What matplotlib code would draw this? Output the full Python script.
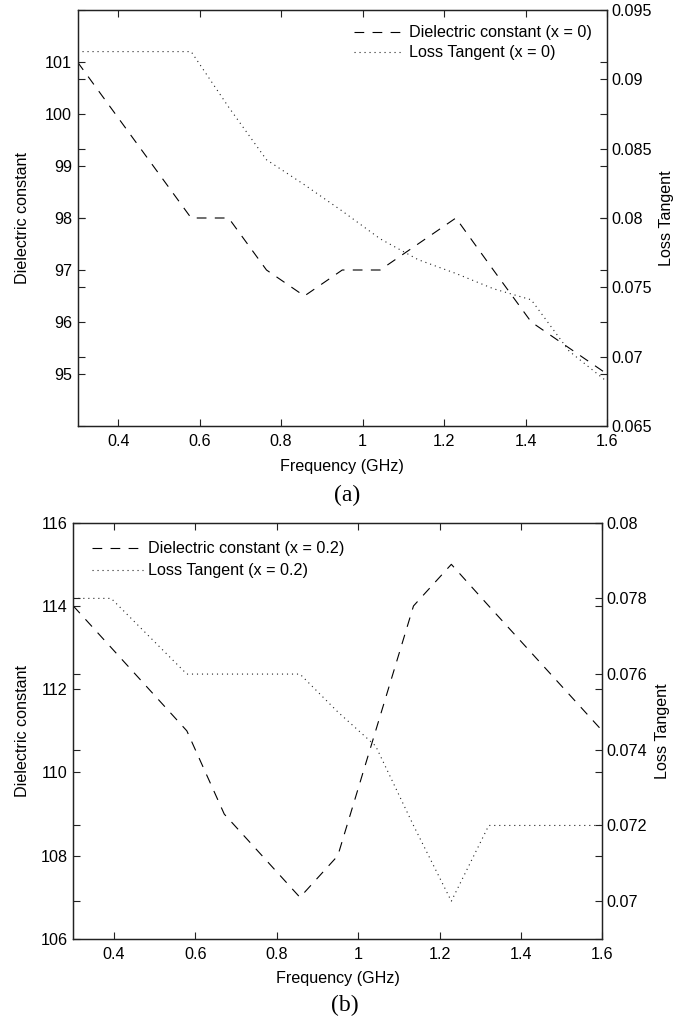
import matplotlib
matplotlib.use("Agg")
import matplotlib.pyplot as plt
from matplotlib.ticker import FixedLocator, FixedFormatter

plt.rcParams['font.family'] = ['Liberation Sans', 'DejaVu Sans']
plt.rcParams['lines.scale_dashes'] = False

# ---- data ----
freq = [0.3, 0.393, 0.486, 0.579, 0.671, 0.764, 0.857, 0.95, 1.043, 1.136,
        1.229, 1.321, 1.414, 1.507, 1.6]

eps_a = [101, 100, 99, 98, 98, 97, 96.5, 97, 97, 97.5, 98, 97, 96, 95.5, 95]
tan_a = [0.092, 0.092, 0.092, 0.092, 0.088, 0.0842, 0.0824, 0.0805, 0.0785,
         0.077, 0.076, 0.0749, 0.0741, 0.0704, 0.0682]

eps_b = [114, 113, 112, 111, 109, 108, 107, 108, 111, 114, 115, 114, 113, 112, 111]
tan_b = [0.078, 0.078, 0.077, 0.076, 0.076, 0.076, 0.076, 0.075, 0.0741,
         0.072, 0.070, 0.072, 0.072, 0.072, 0.072]

xticks = [0.4, 0.6, 0.8, 1.0, 1.2, 1.4, 1.6]
xticklabels = ['0.4', '0.6', '0.8', '1', '1.2', '1.4', '1.6']

yl_a = [95, 96, 97, 98, 99, 100, 101]
yr_a = [0.065, 0.07, 0.075, 0.08, 0.085, 0.09, 0.095]
yr_a_lab = ['0.065', '0.07', '0.075', '0.08', '0.085', '0.09', '0.095']

yl_b = [106, 108, 110, 112, 114, 116]
yr_b = [0.07, 0.072, 0.074, 0.076, 0.078, 0.08]
yr_b_lab = ['0.07', '0.072', '0.074', '0.076', '0.078', '0.08']

W, H = 695, 1021
fig = plt.figure(figsize=(W / 100, H / 100), dpi=100)

FS = 11.6
DASH = (7, 6)
DOT = (0.8, 2.8)


def px_rect(l, t, r, b):
    return [l / W, 1 - b / H, (r - l) / W, (b - t) / H]


def panel(rect, eps, tan, ylim_l, ylim_r, yl, yr, yr_lab, leg_labels,
          leg_loc, leg_anchor, hlen, hpad, lspace, lab_l_x, lab_r_x, xlab_y,
          tag, tag_y, tag_x):
    ax1 = fig.add_axes(px_rect(*rect))
    ax2 = ax1.twinx()
    l1, = ax1.plot(freq, eps, color='black', lw=0.8, linestyle=(0, DASH))
    l2, = ax2.plot(freq, tan, color='#222222', lw=0.8, linestyle=(0, DOT))
    ax1.set_xlim(0.3, 1.6)
    ax1.set_ylim(*ylim_l)
    ax2.set_ylim(*ylim_r)
    ax1.xaxis.set_major_locator(FixedLocator(xticks))
    ax1.xaxis.set_major_formatter(FixedFormatter(xticklabels))
    ax1.yaxis.set_major_locator(FixedLocator(yl))
    ax1.yaxis.set_major_formatter(FixedFormatter([('%g' % v) for v in yl]))
    ax2.yaxis.set_major_locator(FixedLocator(yr))
    ax2.yaxis.set_major_formatter(FixedFormatter(yr_lab))
    for ax in (ax1, ax2):
        for s in ax.spines.values():
            s.set_linewidth(0.9)
            s.set_color('#222222')
    ax1.tick_params(axis='both', direction='in', length=5, width=0.8,
                    labelsize=FS, top=True, right=True, color='#222222', pad=6)
    ax1.tick_params(axis='y', labelright=False, pad=4)
    ax2.tick_params(axis='y', direction='in', length=5, width=0.8,
                    labelsize=FS, left=True, right=True, labelleft=False,
                    color='#222222', pad=3)
    ax2.legend([l1, l2], leg_labels, loc=leg_loc, bbox_to_anchor=leg_anchor,
               frameon=False, fontsize=FS, handlelength=hlen,
               handletextpad=hpad, borderpad=0, borderaxespad=0,
               labelspacing=lspace)
    l, t, r, b = rect
    cy = (t + b) / 2
    fig.text(lab_l_x / W, 1 - cy / H, 'Dielectric constant', rotation=90,
             ha='center', va='center', fontsize=FS)
    fig.text(lab_r_x / W, 1 - cy / H, 'Loss Tangent', rotation=90,
             ha='center', va='center', fontsize=FS)
    fig.text(((l + r) / 2) / W, 1 - xlab_y / H, 'Frequency (GHz)',
             ha='center', va='center', fontsize=FS)
    fig.text(tag_x / W, 1 - tag_y / H, tag, ha='center', va='center',
             fontsize=17, family=['Liberation Serif', 'DejaVu Serif'])


panel((77.5, 10, 607, 426), eps_a, tan_a, (94, 102), (0.065, 0.095),
      yl_a, yr_a, yr_a_lab,
      ['Dielectric constant (x = 0)', 'Loss Tangent (x = 0)'],
      'upper right', (0.9717, 0.963), 2.9, 0.5, 0.3, 22.5, 666, 466,
      '(a)', 495, 347)

panel((73.3, 522.7, 602.3, 939), eps_b, tan_b, (106, 116), (0.069, 0.08),
      yl_b, yr_b, yr_b_lab,
      ['Dielectric constant (x = 0.2)', 'Loss Tangent (x = 0.2)'],
      'upper left', (0.0348, 0.955), 3.2, 0.3, 0.42, 22.5, 662, 978,
      '(b)', 1005, 345)

fig.savefig('out.png', dpi=100)
